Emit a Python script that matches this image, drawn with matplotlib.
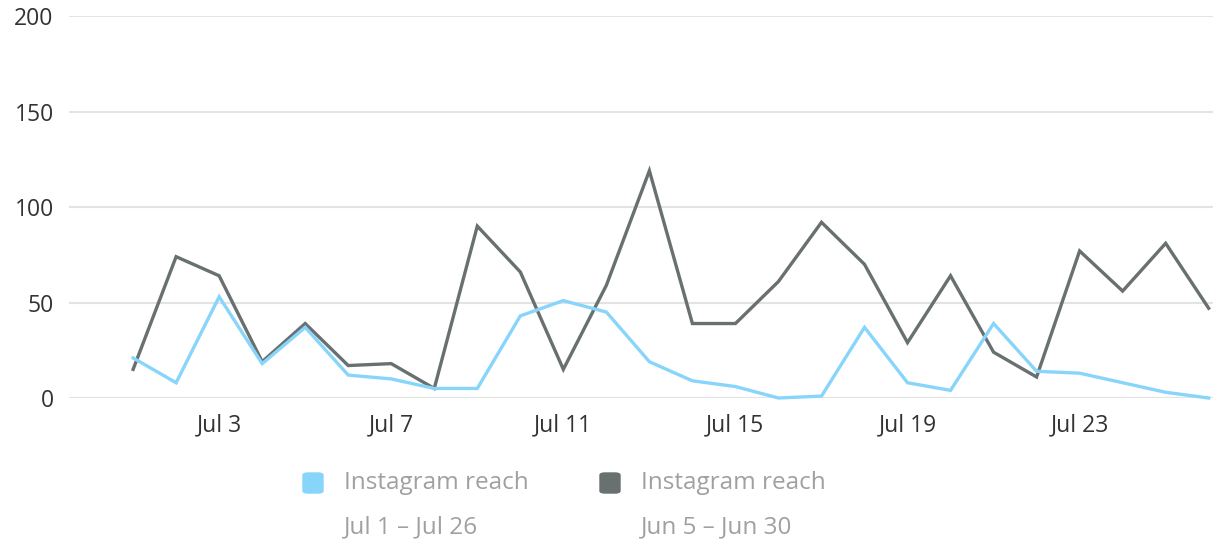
import numpy as np
import matplotlib.pyplot as plt
from matplotlib.patches import FancyBboxPatch

plt.rcParams['font.family'] = ['Open Sans', 'DejaVu Sans']

days = ["Jul %d" % d for d in range(1, 27)]
reach_jul = [21, 8, 53, 18, 37, 12, 10, 5, 5, 43, 51, 45, 19, 9, 6, 0,
             1, 37, 8, 4, 39, 14, 13, 8, 3, 0]
reach_jun = [15, 74, 64, 19, 39, 17, 18, 5, 90, 66, 15, 59, 119, 39, 39, 61,
             92, 70, 29, 64, 24, 11, 77, 56, 81, 47]
legend_names = ["Instagram reach", "Instagram reach"]
legend_ranges = ["Jul 1 \u2013 Jul 26", "Jun 5 \u2013 Jun 30"]

blue = "#88D5FC"
grey = "#687070"

fig = plt.figure(figsize=(12.17, 5.45), dpi=100)
ax = fig.add_axes([0.0567, 0.2697, 0.94, 0.7009])

x = np.arange(len(days))
ax.plot(x, reach_jul, color=blue, lw=2.4, solid_joinstyle='miter', zorder=3, clip_on=False)
ax.plot(x, reach_jun, color=grey, lw=2.4, solid_joinstyle='miter', zorder=2, clip_on=False)

ax.set_xlim(-1.49, 25.1)
ax.set_ylim(0, 200)
ax.set_yticks([0, 50, 100, 150, 200])
ax.set_xticks(x[2::4])
ax.set_xticklabels(days[2::4])
ax.grid(axis='y', color='#e3e3e3', lw=1.5)
ax.set_axisbelow(True)
for s in ax.spines.values():
    s.set_visible(False)
ax.tick_params(length=0, labelsize=16.5, colors='#333333')
ax.tick_params(axis='y', pad=11)
ax.tick_params(axis='x', pad=11)

# legend below the chart
for i, (name, rng, col) in enumerate(zip(legend_names, legend_ranges, [blue, grey])):
    x0 = 303 + i * 297
    fig.patches.append(FancyBboxPatch((x0 / 1217, 1 - 493 / 545), 20 / 1217, 20 / 545,
                                      boxstyle="round,pad=0,rounding_size=0.004",
                                      transform=fig.transFigure, color=col))
    fig.text((x0 + 41) / 1217, 1 - 483 / 545, name, fontsize=17.5, color='#a0a0a0', va='center')
    fig.text((x0 + 41) / 1217, 1 - 527 / 545, rng, fontsize=17.5, color='#a0a0a0', va='center')

fig.savefig("out.png", dpi=100, facecolor='white')
